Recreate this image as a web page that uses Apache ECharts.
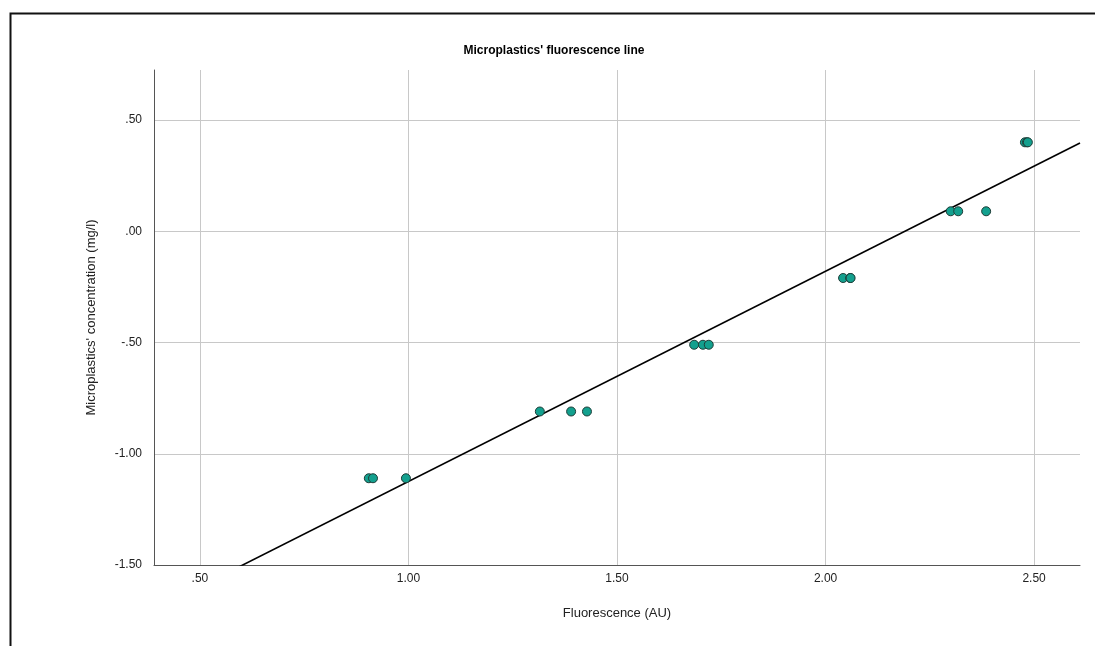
<!DOCTYPE html>
<html>
<head>
<meta charset="utf-8">
<script src="https://cdn.jsdelivr.net/npm/echarts@6/dist/echarts.min.js"></script>
<style>
html,body{margin:0;padding:0;background:#fff;}
#chart{width:1095px;height:646px;}
</style>
</head>
<body>
<div id="chart"></div>
<script>
// Data
const fluorescence = [0.905, 0.915, 0.994, 1.315, 1.39, 1.428, 1.685, 1.706, 1.72, 2.042, 2.059, 2.06, 2.30, 2.318, 2.385, 2.478, 2.483, 2.485];
const concentration = [-1.11, -1.11, -1.11, -0.81, -0.81, -0.81, -0.51, -0.51, -0.51, -0.21, -0.21, -0.21, 0.09, 0.09, 0.09, 0.40, 0.40, 0.40];
const fitLineX = [0.39, 2.61];
const fitLineY = [-1.701, 0.397];
const xRange = [0.39, 2.61];
const yRange = [-1.5, 0.725];
const titleText = "Microplastics' fluorescence line";
const xName = 'Fluorescence (AU)';
const yName = "Microplastics' concentration (mg/l)";

function spssFmt(v) {
  const r = Math.round(v * 100) / 100;
  if (Math.abs(r / 0.5 - Math.round(r / 0.5)) > 1e-6) return '';
  let s = Math.abs(r).toFixed(2);
  if (s.startsWith('0')) s = s.slice(1);
  return (r < 0 ? '-' : '') + s;
}

const points = fluorescence.map((x, i) => [x, concentration[i]]);
const linePts = fitLineX.map((x, i) => [x, fitLineY[i]]);
const font = "'Liberation Sans', Arial, sans-serif";

const chart = echarts.init(document.getElementById('chart'), null, {renderer: 'canvas'});
chart.setOption({
  animation: false,
  backgroundColor: '#fff',
  title: {
    text: titleText,
    left: 549, top: 40, textAlign: 'center',
    textStyle: {fontFamily: font, fontWeight: 'bold', fontSize: 12, color: '#000'}
  },
  graphic: [{
    type: 'rect', left: 8, top: 11, z: 100,
    shape: {width: 1200, height: 800},
    style: {fill: 'none', stroke: '#111', lineWidth: 2}
  }],
  grid: {left: 154, top: 70, right: 15, bottom: 81, containLabel: false},
  xAxis: {
    type: 'value', min: xRange[0], max: xRange[1],
    name: xName, nameLocation: 'middle', nameGap: 42,
    nameTextStyle: {fontFamily: font, fontSize: 13, color: '#222'},
    axisLine: {show: true, onZero: false, lineStyle: {color: '#555', width: 1}},
    axisTick: {show: false},
    axisLabel: {fontFamily: font, fontSize: 12, color: '#222', margin: 8,
      showMinLabel: false, showMaxLabel: false, formatter: spssFmt},
    splitLine: {show: true, showMinLine: false, showMaxLine: false, lineStyle: {color: '#c8c8c8', width: 1}}
  },
  yAxis: {
    type: 'value', min: yRange[0], max: yRange[1],
    name: yName, nameLocation: 'middle', nameGap: 56, nameRotate: 90,
    nameTextStyle: {fontFamily: font, fontSize: 13, color: '#222'},
    axisLine: {show: true, onZero: false, lineStyle: {color: '#555', width: 1}},
    axisTick: {show: false},
    axisLabel: {fontFamily: font, fontSize: 12, color: '#222', margin: 12,
      showMinLabel: true, showMaxLabel: false, formatter: spssFmt},
    splitLine: {show: true, showMinLine: false, showMaxLine: false, lineStyle: {color: '#c8c8c8', width: 1}}
  },
  series: [
    {
      type: 'line', data: linePts, showSymbol: false, symbol: 'none', clip: true,
      lineStyle: {color: '#000', width: 1.6}, z: 2
    },
    {
      type: 'scatter', data: points, symbol: 'circle', symbolSize: 9,
      itemStyle: {color: '#13a08e', borderColor: '#1f3d38', borderWidth: 1, opacity: 1}, z: 3
    }
  ]
});
</script>
</body>
</html>
